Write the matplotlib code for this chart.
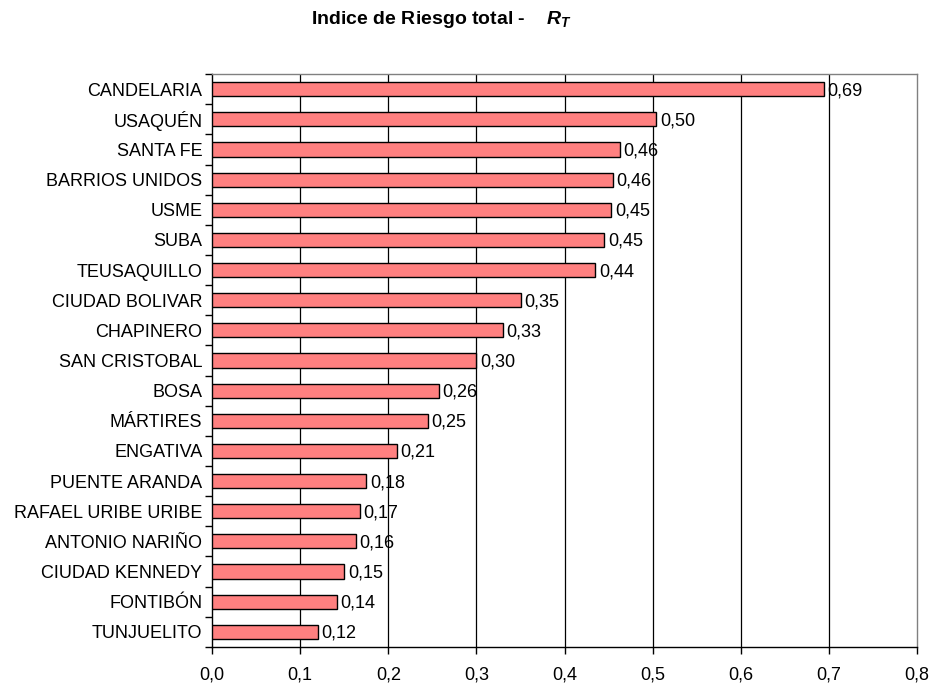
import matplotlib
matplotlib.use("Agg")
import matplotlib.pyplot as plt
import numpy as np

plt.rcParams['font.family'] = ['Liberation Sans', 'DejaVu Sans']
plt.rcParams['mathtext.fontset'] = 'custom'
plt.rcParams['mathtext.it'] = 'Liberation Sans:italic:bold'
plt.rcParams['mathtext.rm'] = 'Liberation Sans:bold'

categories = ["CANDELARIA", "USAQUÉN", "SANTA FE", "BARRIOS UNIDOS", "USME", "SUBA",
              "TEUSAQUILLO", "CIUDAD BOLIVAR", "CHAPINERO", "SAN CRISTOBAL", "BOSA",
              "MÁRTIRES", "ENGATIVA", "PUENTE ARANDA", "RAFAEL URIBE URIBE",
              "ANTONIO NARIÑO", "CIUDAD KENNEDY", "FONTIBÓN", "TUNJUELITO"]
values = [0.694, 0.504, 0.463, 0.455, 0.453, 0.445, 0.435, 0.350, 0.330, 0.300,
          0.257, 0.245, 0.210, 0.175, 0.168, 0.163, 0.150, 0.142, 0.120]
value_labels = ["0,69", "0,50", "0,46", "0,46", "0,45", "0,45", "0,44", "0,35", "0,33",
                "0,30", "0,26", "0,25", "0,21", "0,18", "0,17", "0,16", "0,15", "0,14", "0,12"]
xticks = [0.0, 0.1, 0.2, 0.3, 0.4, 0.5, 0.6, 0.7, 0.8]
xtick_labels = ["0,0", "0,1", "0,2", "0,3", "0,4", "0,5", "0,6", "0,7", "0,8"]

fs = 13
fig = plt.figure(figsize=(9.34, 6.86), dpi=100)
ax = fig.add_axes([0.227, 0.057, 0.755, 0.835])

n = len(categories)
y = np.arange(n)
ax.barh(y, values, height=0.47, color="#FF8080", edgecolor="black", linewidth=1.0, zorder=3)
for yi, v, lab in zip(y, values, value_labels):
    ax.text(v + 0.004, yi + 0.05, lab, va="center", ha="left", fontsize=fs, zorder=4)

ax.set_xlim(0, 0.8)
ax.set_ylim(n - 0.5, -0.5)
ax.set_xticks(xticks)
ax.set_xticklabels(xtick_labels, fontsize=fs)
ax.set_yticks(y)
ax.set_yticklabels(categories, fontsize=fs)
ax.tick_params(axis='y', which='major', length=0, pad=7)
ax.set_yticks(np.arange(n + 1) - 0.5, minor=True)
ax.tick_params(axis='y', which='minor', length=5, direction='out', width=1)
ax.tick_params(axis='x', which='major', length=5, direction='out', width=1, pad=9)

for xv in xticks[1:-1]:
    ax.axvline(xv, color="black", linewidth=0.9, zorder=1)

for s in ['top', 'right']:
    ax.spines[s].set_color("#808080")
    ax.spines[s].set_linewidth(1.0)
for s in ['left', 'bottom']:
    ax.spines[s].set_color("black")
    ax.spines[s].set_linewidth(1.0)

fig.text(0.472, 0.972, r"Indice de Riesgo total -    $R_T$", ha="center", va="center",
         fontsize=14, fontweight="bold")

fig.savefig("out.png", dpi=100)
